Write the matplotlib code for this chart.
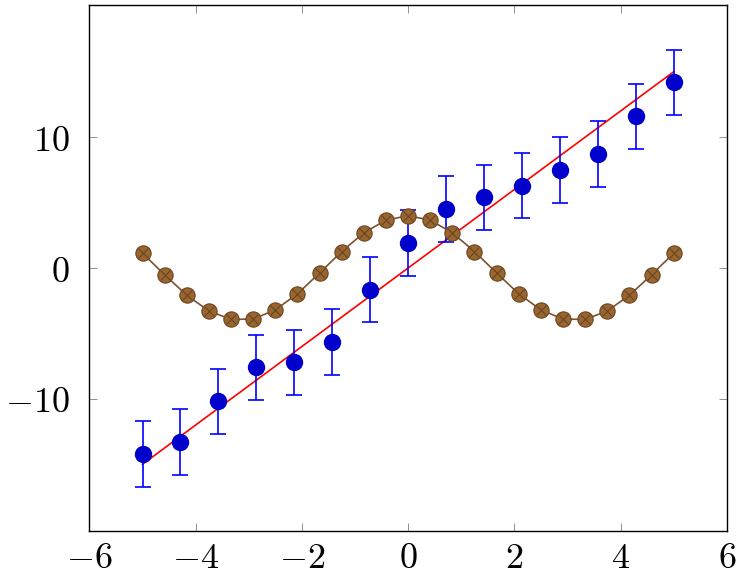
import matplotlib
matplotlib.use("Agg")
import matplotlib.pyplot as plt
from matplotlib.ticker import FuncFormatter

plt.rcParams['mathtext.fontset'] = 'cm'
plt.rcParams['font.family'] = 'DejaVu Serif'

# red line endpoints
line_x = [-5, 5]
line_y = [-15, 15]

# blue points with error bars
blue_x = [-5.0, -4.286, -3.571, -2.857, -2.143, -1.429, -0.714, 0.0,
          0.714, 1.429, 2.143, 2.857, 3.571, 4.286, 5.0]
blue_y = [-14.2, -13.3, -10.2, -7.6, -7.2, -5.65, -1.65, 1.9,
          4.5, 5.4, 6.3, 7.5, 8.7, 11.6, 14.2]
blue_err = [2.5] * 15

# brown curve
brown_x = [-5.0, -4.583, -4.167, -3.75, -3.333, -2.917, -2.5, -2.083, -1.667,
           -1.25, -0.833, -0.417, 0.0, 0.417, 0.833, 1.25, 1.667, 2.083, 2.5,
           2.917, 3.333, 3.75, 4.167, 4.583, 5.0]
brown_y = [1.13, -0.52, -2.08, -3.28, -3.93, -3.90, -3.20, -1.97, -0.38,
           1.26, 2.69, 3.66, 4.0, 3.66, 2.69, 1.26, -0.38, -1.97, -3.20,
           -3.90, -3.93, -3.28, -2.08, -0.52, 1.13]

xticks = [-6, -4, -2, 0, 2, 4, 6]
yticks = [-10, 0, 10]

fig = plt.figure(figsize=(7.42, 5.78), dpi=100)
ax = fig.add_axes([0.1205, 0.0813, 0.859, 0.910])

ax.plot(line_x, line_y, color='#FF0000', lw=1.2, zorder=2)
ax.errorbar(blue_x, blue_y, yerr=blue_err, fmt='o', color='#0000FF',
            mfc='#0000CC', mec='#0000CC', ms=11.5, elinewidth=1.2,
            capsize=6, capthick=1.2, zorder=3)
ax.plot(brown_x, brown_y, color='#7A5230', lw=1.2, marker='o', ms=11,
        mfc='#99662F', mec='#6B4522', mew=0.8, zorder=4)
ax.plot(brown_x, brown_y, ls='none', marker='x', ms=7.5, mec='#6B4522',
        mew=0.8, zorder=5)

ax.set_xlim(-6, 6)
ax.set_ylim(-20.1, 20.1)
ax.set_xticks(xticks)
ax.set_yticks(yticks)
fmt = FuncFormatter(lambda v, p: r'$%d$' % v)
ax.xaxis.set_major_formatter(fmt)
ax.yaxis.set_major_formatter(fmt)
ax.tick_params(direction='in', length=6, width=0.6, color='#808080',
               top=True, right=True, labelsize=26)
ax.tick_params(axis='x', pad=7)
ax.tick_params(axis='y', pad=14)
for s in ax.spines.values():
    s.set_linewidth(1.0)
    s.set_color('black')

fig.savefig('out.png', dpi=100)
